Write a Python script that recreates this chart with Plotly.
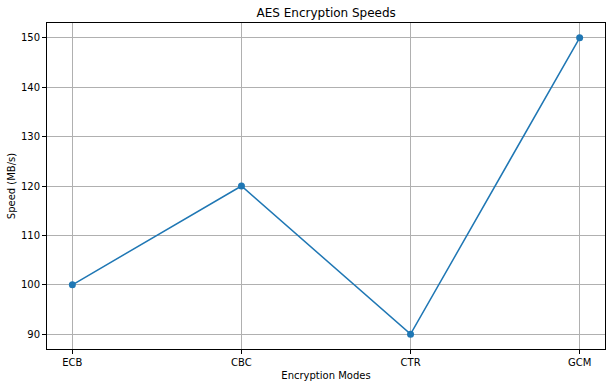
import plotly.graph_objects as go

modes = ["ECB", "CBC", "CTR", "GCM"]
speeds = [100, 120, 90, 150]
y_ticks = [90, 100, 110, 120, 130, 140, 150]

fig = go.Figure()
fig.add_trace(go.Scatter(
    x=list(range(len(modes))), y=speeds, mode="lines+markers",
    line=dict(color="#1f77b4", width=1.5),
    marker=dict(color="#1f77b4", size=7),
))

axis_common = dict(
    showline=True, linecolor="black", linewidth=1, mirror=True,
    showgrid=True, gridcolor="#b0b0b0", gridwidth=0.8,
    ticks="outside", ticklen=4, tickcolor="black",
    zeroline=False, tickfont=dict(size=10, color="black"),
    automargin=False,
)

fig.update_layout(
    width=612, height=387,
    margin=dict(l=47, r=7, t=23, b=38),
    paper_bgcolor="white", plot_bgcolor="white",
    font=dict(family="DejaVu Sans", size=10, color="black"),
    title=dict(text="AES Encryption Speeds", x=0.533, xanchor="center",
               y=0.968, yanchor="middle", font=dict(size=12), automargin=False),
    showlegend=False,
    xaxis=dict(**axis_common, range=[-0.15, 3.15],
               tickmode="array", tickvals=list(range(len(modes))), ticktext=modes,
               title=dict(text="Encryption Modes", standoff=4, font=dict(size=10))),
    yaxis=dict(**axis_common, range=[87, 153],
               tickmode="array", tickvals=y_ticks,
               title=dict(text="Speed (MB/s)", standoff=3, font=dict(size=10))),
)

fig.write_html("out.html",
               config={"displayModeBar": False},
               post_script="document.body.style.margin='0';document.body.style.overflow='hidden';")
